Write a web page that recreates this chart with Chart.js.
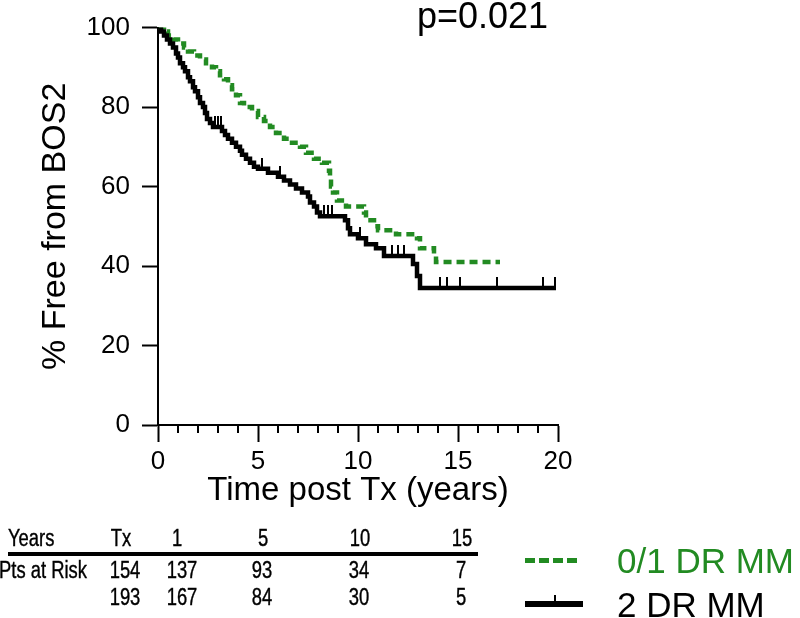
<!DOCTYPE html>
<html><head><meta charset="utf-8">
<script src="https://cdn.jsdelivr.net/npm/chart.js@4.4.0/dist/chart.umd.min.js"></script>
<style>
html,body{margin:0;padding:0;background:#fff;}
#wrap{position:relative;width:800px;height:618px;overflow:hidden;font-family:"Liberation Sans",Arial,sans-serif;}
#c{position:absolute;left:0;top:0;}
.t{position:absolute;white-space:nowrap;line-height:1;}
.tbl{font-family:"Liberation Sans",Arial,sans-serif;font-size:23px;color:#000;-webkit-text-stroke:0.4px #000;transform:translate(-50%,-50%) scaleX(0.8);}
.tbl.l{transform-origin:0 50%;transform:translate(0,-50%) scaleX(0.8);}
</style></head><body>
<div id="wrap">
<canvas id="c" width="800" height="618"></canvas>
</div>
<script>
// ---- Data ----
const seriesNames = ['0/1 DR MM', '2 DR MM'];
const pValueText = 'p=0.021';

// 0/1 DR MM: step times (years) and % free from BOS2
const timeGreen = [0,0.3,0.5,0.8,1.0,1.3,1.5,1.8,2.1,2.4,2.7,2.9,3.1,3.3,3.5,3.7,3.9,4.1,4.3,4.7,5.0,5.3,5.6,5.9,6.3,6.7,7.1,7.4,7.8,8.2,8.55,8.6,8.65,8.75,8.95,9.4,10.3,10.4,10.8,11.0,11.9,12.95,13.1,13.8,13.9,17.1];
const survGreen = [100,99,98,97,96,95,94,93,92,91,90,89,88,87,85.5,84.5,83,81,80,79,77.5,76.5,75,73.5,72,71,70,68.5,67,66,64,62,60,58.5,56.5,55,53.5,51.5,50,49,48,47,44.5,43,41,41];

// 2 DR MM: step times (years) and % free from BOS2
const timeBlack = [0,0.15,0.3,0.45,0.6,0.75,0.9,1.0,1.1,1.25,1.35,1.5,1.6,1.75,1.85,2.0,2.1,2.25,2.35,2.45,2.6,2.75,3.2,3.35,3.5,3.7,3.9,4.1,4.2,4.4,4.6,4.8,5.0,5.5,6.0,6.3,6.6,6.9,7.2,7.5,7.6,7.8,7.95,8.1,9.35,9.5,9.6,10.0,10.4,10.9,11.3,12.75,12.95,13.1,19.9];
const survBlack = [100,99,98,97,96,95,93.5,92.5,91,90,89,87.5,86.5,85,84,82.5,81,80,78.5,77,76,75,74,73,72,71,70,69,68,67,66,65,64.5,63.5,62.5,61.5,60.5,59.5,58.5,57.5,56,55,53.5,52.5,51.5,49.5,48,47,45.5,44.5,42.5,40.5,37.5,34.5,34.5];
// censored observation times for 2 DR MM
const censorBlack = [2.85,3.0,3.15,5.2,6.1,8.3,8.5,8.7,10.1,11.7,12.0,12.3,14.1,14.45,15.1,16.95,19.25,19.85];

// Numbers at risk table
const riskHeaderLabel = 'Years';
const riskRowLabel = 'Pts at Risk';
const riskTimes = ['Tx','1','5','10','15'];
const riskGreen = [154,137,93,34,7];
const riskBlack = [193,167,84,30,5];

// axis ticks
const xTickValues = [0,5,10,15,20];
const yTickValues = [0,20,40,60,80,100];

// ---- Styling / layout ----
const GREEN = '#228b22';
const BLACK = '#000000';
const FONT = '"Liberation Sans", Arial, sans-serif';
const headCol = [121, 177, 263, 360, 462];   // table column centres (px)
const rowCol = [125, 182, 262, 359, 461];

function levelAt(times, surv, t){
  let v = surv[0];
  for (let i=0;i<times.length;i++){ if (times[i] <= t) v = surv[i]; }
  return v;
}

// censor tick glyph (vertical tick sitting on the curve)
const tickImg = document.createElement('canvas');
tickImg.width = 2; tickImg.height = 22;
(function(){ const g = tickImg.getContext('2d'); g.fillStyle = BLACK; g.fillRect(0,0,2,11); })();

const minorTicks = {
  id:'minorTicks',
  afterDraw(chart){
    const xs = chart.scales.x, ctx = chart.ctx, b = chart.chartArea.bottom;
    ctx.save(); ctx.strokeStyle = BLACK; ctx.lineWidth = 2;
    for (let v = xs.min; v <= xs.max; v++){
      if (xTickValues.includes(v)) continue;
      const px = Math.round(xs.getPixelForValue(v));
      ctx.beginPath(); ctx.moveTo(px, b); ctx.lineTo(px, b+8); ctx.stroke();
    }
    ctx.restore();
  }
};

new Chart(document.getElementById('c'), {
  type:'line',
  data:{
    datasets:[
      { label:seriesNames[0], data: timeGreen.map((t,i)=>({x:t,y:survGreen[i]})),
        borderColor:GREEN, borderWidth:4.5, borderDash:[8,5], stepped:'before', pointRadius:0, fill:false, order:2 },
      { label:seriesNames[1], data: timeBlack.map((t,i)=>({x:t,y:survBlack[i]})),
        borderColor:BLACK, borderWidth:4.5, stepped:'before', pointRadius:0, fill:false, order:1 },
      { label:'censored', type:'scatter', data: censorBlack.map(t=>({x:t,y:levelAt(timeBlack,survBlack,t)})),
        pointStyle:tickImg, pointRadius:6, showLine:false, order:0 }
    ]
  },
  options:{
    responsive:false, animation:false, devicePixelRatio:1,
    layout:{ padding:{ left:20, top:24, right:242, bottom:103 } },
    plugins:{ legend:{display:false}, tooltip:{enabled:false}, title:{display:false} },
    scales:{
      x:{ type:'linear', min:0, max:20,
        afterFit(s){ s.height = 90; },
        afterBuildTicks(s){ s.ticks = xTickValues.map(v=>({value:v})); },
        ticks:{ color:BLACK, font:{family:FONT, size:26}, padding:4, autoSkip:false, maxRotation:0 },
        grid:{ drawOnChartArea:false, tickLength:17, tickWidth:2, tickColor:BLACK },
        border:{ color:BLACK, width:2 },
        title:{ display:true, text:'Time post Tx (years)', color:BLACK, font:{family:FONT, size:33}, padding:{top:0,bottom:4} }
      },
      y:{ min:0, max:100,
        afterFit(s){ s.width = 138; },
        afterBuildTicks(s){ s.ticks = yTickValues.map(v=>({value:v})); },
        ticks:{ color:BLACK, font:{family:FONT, size:26}, padding:12 },
        grid:{ drawOnChartArea:false, tickLength:16, tickWidth:2, tickColor:BLACK },
        border:{ color:BLACK, width:2 },
        title:{ display:true, text:'% Free from BOS2', color:BLACK, font:{family:FONT, size:34}, padding:{top:15,bottom:0} }
      }
    }
  },
  plugins:[minorTicks]
});

// ---- Overlay texts: p value, risk table, legend ----
const wrap = document.getElementById('wrap');
function addText(txt, x, y, cls, style){
  const d = document.createElement('div'); d.className = 't ' + (cls||''); d.textContent = txt;
  d.style.left = x+'px'; d.style.top = y+'px'; Object.assign(d.style, style||{}); wrap.appendChild(d); return d;
}
function addBox(x,y,w,h,bg){
  const d = document.createElement('div'); d.style.position='absolute';
  d.style.left=x+'px'; d.style.top=y+'px'; d.style.width=w+'px'; d.style.height=h+'px'; d.style.background=bg; wrap.appendChild(d); return d;
}
addText(pValueText, 417, -2, '', {fontSize:'36px', color:BLACK});

addText(riskHeaderLabel, 8, 538, 'tbl l');
riskTimes.forEach((t,i)=> addText(t, headCol[i], 538, 'tbl'));
addBox(8, 552, 470, 4, BLACK);
addText(riskRowLabel, -1, 570, 'tbl l');
riskGreen.forEach((v,i)=> addText(String(v), rowCol[i], 570, 'tbl'));
riskBlack.forEach((v,i)=> addText(String(v), rowCol[i], 597, 'tbl'));

// legend
addBox(525, 558, 56, 5, 'repeating-linear-gradient(90deg,'+GREEN+' 0 10px, transparent 10px 14px)');
addText(seriesNames[0], 617, 543, '', {fontSize:'35px', color:GREEN});
addBox(525, 601, 58, 6, BLACK);
addBox(554, 595, 2, 8, BLACK);
addText(seriesNames[1], 617, 587, '', {fontSize:'35px', color:BLACK});
</script>
</body></html>
